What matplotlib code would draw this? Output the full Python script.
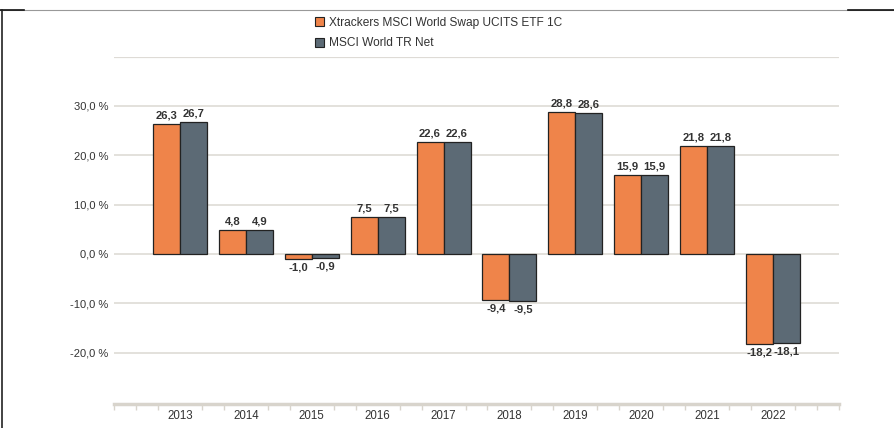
import matplotlib
matplotlib.use("Agg")
import matplotlib.pyplot as plt
from matplotlib.lines import Line2D
from matplotlib.patches import Patch
import numpy as np

plt.rcParams['font.family'] = ['Liberation Sans', 'DejaVu Sans']

years = ["2013", "2014", "2015", "2016", "2017", "2018", "2019", "2020", "2021", "2022"]
etf = [26.3, 4.8, -1.0, 7.5, 22.6, -9.4, 28.8, 15.9, 21.8, -18.2]
index = [26.7, 4.9, -0.9, 7.5, 22.6, -9.5, 28.6, 15.9, 21.8, -18.1]
series_names = ["Xtrackers MSCI World Swap UCITS ETF 1C", "MSCI World TR Net"]
yticks = [-20, -10, 0, 10, 20, 30]

c_etf = "#EF844A"
c_idx = "#5C6A75"

W, H = 895, 428
fig = plt.figure(figsize=(W / 100, H / 100), dpi=100)
ax = fig.add_axes([114 / W, (H - 404) / H, 725 / W, (404 - 56.5) / H])

x = np.arange(len(years))
bw = 0.41
ax.bar(x - bw / 2, etf, bw, color=c_etf, edgecolor="#222222", linewidth=0.9, zorder=3)
ax.bar(x + bw / 2, index, bw, color=c_idx, edgecolor="#222222", linewidth=0.9, zorder=3)

def fmt(v):
    return f"{v:.1f}".replace(".", ",")

for xs, vals in ((x - bw / 2, etf), (x + bw / 2, index)):
    for xi, v in zip(xs, vals):
        ax.annotate(fmt(v), (xi, v), xytext=(0, 2.5 if v >= 0 else -2.5), textcoords="offset points",
                    ha="center", va="bottom" if v >= 0 else "top", fontsize=8.1,
                    fontweight="bold", color="#333333", zorder=4)

ax.set_xlim(-1, 10)
ax.set_ylim(-30.4, 40)
ax.set_yticks(yticks)
ax.set_yticklabels([f"{t:.1f}".replace(".", ",") + " %" for t in yticks], fontsize=8, color="#333333")
ax.tick_params(axis="y", length=0, pad=4)
for t in yticks + [40]:
    ax.axhline(t, color="#dedbd6", linewidth=1.2 if t != 40 else 1.6, zorder=1)

ax.set_xticks(x)
ax.set_xticklabels(years, fontsize=8.3, color="#333333")
ax.tick_params(axis="x", length=0, pad=4)
minor = [-1] + [k + f for k in range(-1, 10) for f in (1 / 3, 2 / 3)] + [10]
ax.set_xticks(minor, minor=True)
ax.tick_params(axis="x", which="minor", length=4, width=1, color="#d8d4cc")

for s in ["top", "right", "left"]:
    ax.spines[s].set_visible(False)
ax.spines["bottom"].set_color("#d8d4cc")
ax.spines["bottom"].set_linewidth(2.5)

handles = [Patch(facecolor=c_etf, edgecolor="#222222", linewidth=0.8),
           Patch(facecolor=c_idx, edgecolor="#222222", linewidth=0.8)]
fig.legend(handles, series_names, loc="upper left", bbox_to_anchor=(315 / W, 1 - 17 / H),
           frameon=False, fontsize=8.6, handlelength=0.75, handleheight=0.75,
           handletextpad=0.45, labelspacing=0.7, borderaxespad=0, borderpad=0,
           labelcolor="#333333")

# outer frame lines
fig.add_artist(Line2D([0, 1], [1 - 10 / H, 1 - 10 / H], color="#999999", linewidth=0.8, transform=fig.transFigure))
fig.add_artist(Line2D([0, 24 / W], [1 - 10 / H, 1 - 10 / H], color="#111111", linewidth=1.2, transform=fig.transFigure))
fig.add_artist(Line2D([848 / W, 1], [1 - 10 / H, 1 - 10 / H], color="#111111", linewidth=1.2, transform=fig.transFigure))
fig.add_artist(Line2D([2.5 / W, 2.5 / W], [0, 1 - 10 / H], color="#222222", linewidth=1.2, transform=fig.transFigure))

fig.savefig("out.png", dpi=100)
